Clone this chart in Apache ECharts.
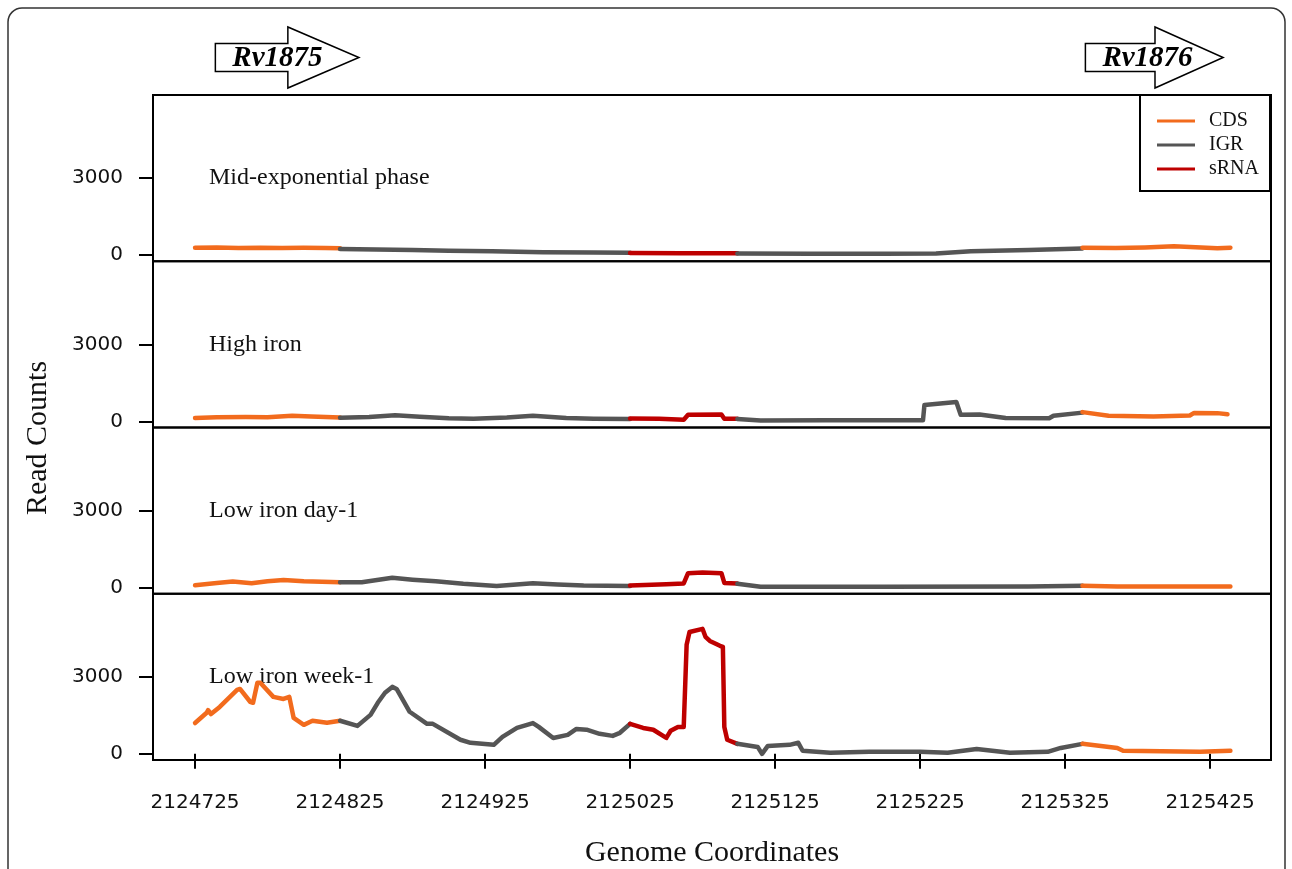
<!DOCTYPE html>
<html>
<head>
<meta charset="utf-8">
<script src="https://cdn.jsdelivr.net/npm/echarts@6/dist/echarts.min.js"></script>
<style>
html,body{margin:0;padding:0;background:#fff;}
#chart{width:1292px;height:869px;}
</style>
</head>
<body>
<div id="chart"></div>
<script>
// ---------- data ----------
const regionNames = ['CDS', 'IGR', 'sRNA'];
const regionColors = { CDS: '#F26B1D', IGR: '#555555', sRNA: '#BE0000' };
const panelLabels = ['Mid-exponential phase', 'High iron', 'Low iron day-1', 'Low iron week-1'];
const xTickValues = [2124725, 2124825, 2124925, 2125025, 2125125, 2125225, 2125325, 2125425];
const yTickValues = [0, 3000];

const geneNames = ['Rv1875', 'Rv1876'];
const geneStarts = [2124739, 2125339];
const geneHeadStarts = [2124789, 2125387];
const geneEnds = [2124838, 2125434];

// Mid-exponential phase
const mid_CDS1 = [[2124725,290],[2124740,295],[2124755,280],[2124770,290],[2124785,275],[2124800,285],[2124815,280],[2124825,270]];
const mid_IGR1 = [[2124825,240],[2124850,220],[2124875,200],[2124900,170],[2124930,150],[2124965,110],[2125000,100],[2125025,95]];
const mid_sRNA = [[2125025,85],[2125060,75],[2125099,70]];
const mid_IGR2 = [[2125099,60],[2125150,55],[2125200,55],[2125236,60],[2125260,150],[2125300,200],[2125337,260]];
const mid_CDS2 = [[2125337,290],[2125360,280],[2125380,300],[2125400,340],[2125415,310],[2125430,270],[2125439,290]];

// High iron
const high_CDS1 = [[2124725,130],[2124740,160],[2124760,170],[2124775,160],[2124792,220],[2124805,190],[2124825,150]];
const high_IGR1 = [[2124825,140],[2124845,170],[2124863,240],[2124880,180],[2124900,120],[2124917,100],[2124940,150],[2124958,220],[2124981,130],[2125000,100],[2125025,90]];
const high_sRNA = [[2125025,110],[2125045,100],[2125062,60],[2125065,260],[2125088,270],[2125090,100],[2125099,100]];
const high_IGR2 = [[2125099,90],[2125115,30],[2125160,40],[2125200,40],[2125227,40],[2125228,640],[2125250,750],[2125253,260],[2125266,270],[2125284,130],[2125314,120],[2125317,220],[2125337,340]];
const high_CDS2 = [[2125337,360],[2125355,220],[2125386,190],[2125411,230],[2125414,330],[2125430,320],[2125437,280]];

// Low iron day-1
const day_CDS1 = [[2124725,90],[2124740,180],[2124751,240],[2124764,170],[2124775,250],[2124786,300],[2124800,250],[2124825,210]];
const day_IGR1 = [[2124825,210],[2124840,210],[2124861,380],[2124875,310],[2124891,250],[2124910,150],[2124933,60],[2124958,170],[2124975,120],[2124993,80],[2125025,60]];
const day_sRNA = [[2125025,80],[2125050,130],[2125062,160],[2125065,560],[2125075,590],[2125088,560],[2125090,180],[2125099,160]];
const day_IGR2 = [[2125099,150],[2125115,30],[2125200,30],[2125300,40],[2125337,70]];
const day_CDS2 = [[2125337,70],[2125361,40],[2125400,40],[2125439,40]];

// Low iron week-1
const week_CDS1 = [[2124725,1200],[2124733,1600],[2124734,1700],[2124736,1550],[2124742,1830],[2124754,2490],[2124756,2530],[2124763,2030],[2124765,1990],[2124768,2770],[2124770,2770],[2124779,2220],[2124786,2140],[2124790,2220],[2124793,1400],[2124800,1130],[2124806,1290],[2124816,1210],[2124825,1290]];
const week_IGR1 = [[2124825,1290],[2124837,1090],[2124846,1520],[2124851,1990],[2124856,2380],[2124861,2610],[2124864,2530],[2124873,1640],[2124885,1170],[2124889,1170],[2124908,550],[2124915,430],[2124931,350],[2124937,660],[2124947,1010],[2124958,1200],[2124962,1050],[2124972,620],[2124982,740],[2124988,970],[2124995,940],[2125004,780],[2125013,700],[2125018,820],[2125025,1170]];
const week_sRNA = [[2125025,1170],[2125034,1010],[2125041,940],[2125050,620],[2125053,900],[2125058,1050],[2125062,1050],[2125064,4250],[2125066,4750],[2125075,4870],[2125077,4560],[2125080,4400],[2125087,4210],[2125089,4170],[2125090,1050],[2125092,550],[2125099,390]];
const week_IGR2 = [[2125099,390],[2125113,270],[2125116,0],[2125120,310],[2125135,350],[2125141,430],[2125144,120],[2125163,40],[2125190,80],[2125225,80],[2125244,40],[2125264,190],[2125287,40],[2125313,80],[2125322,230],[2125337,390]];
const week_CDS2 = [[2125337,390],[2125361,230],[2125365,120],[2125418,80],[2125439,120]];

const panels = [
  [['CDS', mid_CDS1], ['IGR', mid_IGR1], ['sRNA', mid_sRNA], ['IGR', mid_IGR2], ['CDS', mid_CDS2]],
  [['CDS', high_CDS1], ['IGR', high_IGR1], ['sRNA', high_sRNA], ['IGR', high_IGR2], ['CDS', high_CDS2]],
  [['CDS', day_CDS1], ['IGR', day_IGR1], ['sRNA', day_sRNA], ['IGR', day_IGR2], ['CDS', day_CDS2]],
  [['CDS', week_CDS1], ['IGR', week_IGR1], ['sRNA', week_sRNA], ['IGR', week_IGR2], ['CDS', week_CDS2]]
];

// ---------- layout ----------
const X_MIN = 2124696, X_MAX = 2125467;
const Y_MIN = -240, Y_MAX = 6240;
const plotLeft = 153, plotWidth = 1118, plotTop = 95, panelH = 166.25;
const serif = '"Liberation Serif", "Times New Roman", serif';
const sans = '"DejaVu Sans", sans-serif';

const chart = echarts.init(document.getElementById('chart'), null, { renderer: 'canvas' });

const grids = [], xAxes = [], yAxes = [], series = [];
for (let i = 0; i < 4; i++) {
  grids.push({ left: plotLeft, width: plotWidth, top: plotTop + i * panelH, height: panelH,
    show: true, borderColor: '#000', borderWidth: 2, backgroundColor: 'transparent' });
  const isBottom = i === 3;
  xAxes.push({
    type: 'value', gridIndex: i, min: X_MIN, max: X_MAX, show: isBottom,
    axisLine: { show: false },
    splitLine: { show: false },
    axisTick: { show: isBottom, length: 15, lineStyle: { color: '#000', width: 2 }, customValues: xTickValues },
    axisLabel: { show: isBottom, customValues: xTickValues, margin: 33, color: '#111',
      fontFamily: sans, fontSize: 20, formatter: v => String(v) },
    name: isBottom ? 'Genome Coordinates' : '',
    nameLocation: 'middle', nameGap: 78,
    nameTextStyle: { fontFamily: serif, fontSize: 30, color: '#111' }
  });
  yAxes.push({
    type: 'value', gridIndex: i, min: Y_MIN, max: Y_MAX,
    axisLine: { show: false },
    splitLine: { show: false },
    axisTick: { show: true, length: 14, lineStyle: { color: '#000', width: 2 }, customValues: yTickValues },
    axisLabel: { show: true, customValues: yTickValues, margin: 30, color: '#111',
      fontFamily: sans, fontSize: 20, padding: [6, 0, 0, 0], formatter: v => String(v) }
  });
  panels[i].forEach(([region, data]) => {
    series.push({
      type: 'line', name: region, xAxisIndex: i, yAxisIndex: i,
      data: data, symbol: 'none', silent: true,
      lineStyle: { color: regionColors[region], width: 4.5, cap: 'round', join: 'round' },
      itemStyle: { color: regionColors[region] }
    });
  });
}

// gene arrow track
grids.push({ left: plotLeft, width: plotWidth, top: 20, height: 75, show: false });
xAxes.push({ type: 'value', gridIndex: 4, min: X_MIN, max: X_MAX, show: false });
yAxes.push({ type: 'value', gridIndex: 4, min: 0, max: 1, show: false });
series.push({
  type: 'custom', xAxisIndex: 4, yAxisIndex: 4, silent: true,
  data: geneNames.map((n, k) => [geneStarts[k], geneHeadStarts[k], geneEnds[k], n]),
  renderItem: function (params, api) {
    const p0 = api.coord([api.value(0), 0.5]);
    const p1 = api.coord([api.value(1), 0.5]);
    const p2 = api.coord([api.value(2), 0.5]);
    const cy = 57.5, bh = 14, hh = 30.5;
    return {
      type: 'group',
      children: [
        { type: 'polygon',
          shape: { points: [[p0[0], cy - bh], [p1[0], cy - bh], [p1[0], cy - hh], [p2[0], cy],
                            [p1[0], cy + hh], [p1[0], cy + bh], [p0[0], cy + bh]] },
          style: { fill: '#fff', stroke: '#000', lineWidth: 1.5 } },
        { type: 'text',
          style: { text: api.value(3), x: p0[0] + 17, y: cy + 1, fill: '#000',
            font: 'italic bold 29px ' + serif, textAlign: 'left', textVerticalAlign: 'middle' } }
      ]
    };
  }
});

const graphics = [
  { type: 'rect', shape: { x: 8, y: 8, width: 1277, height: 900, r: 14 },
    style: { fill: 'none', stroke: '#333', lineWidth: 1.5 }, z: -10 },
  { type: 'text', x: 38, y: 438, rotation: Math.PI / 2,
    style: { text: 'Read Counts', font: '30px ' + serif, fill: '#111', textAlign: 'center', textVerticalAlign: 'middle' } }
];
panelLabels.forEach((t, i) => {
  graphics.push({ type: 'text', x: 209, y: plotTop + i * panelH + 83,
    style: { text: t, font: '24px ' + serif, fill: '#111', textAlign: 'left', textVerticalAlign: 'middle' } });
});

const option = {
  animation: false,
  backgroundColor: '#fff',
  grid: grids,
  xAxis: xAxes,
  yAxis: yAxes,
  legend: {
    left: 1140, top: 95, orient: 'vertical',
    data: regionNames.map(n => ({ name: n, icon: 'path://M0,0 L38,0 L38,3 L0,3 Z' })),
    itemWidth: 38, itemHeight: 14, itemGap: 4,
    padding: [16, 11, 12, 17],
    borderColor: '#000', borderWidth: 2, backgroundColor: '#fff',
    textStyle: { fontFamily: serif, fontSize: 20, color: '#111', padding: [0, 0, 0, 9] },
    selectedMode: false
  },
  graphic: graphics,
  series: series
};
chart.setOption(option);
</script>
</body>
</html>
